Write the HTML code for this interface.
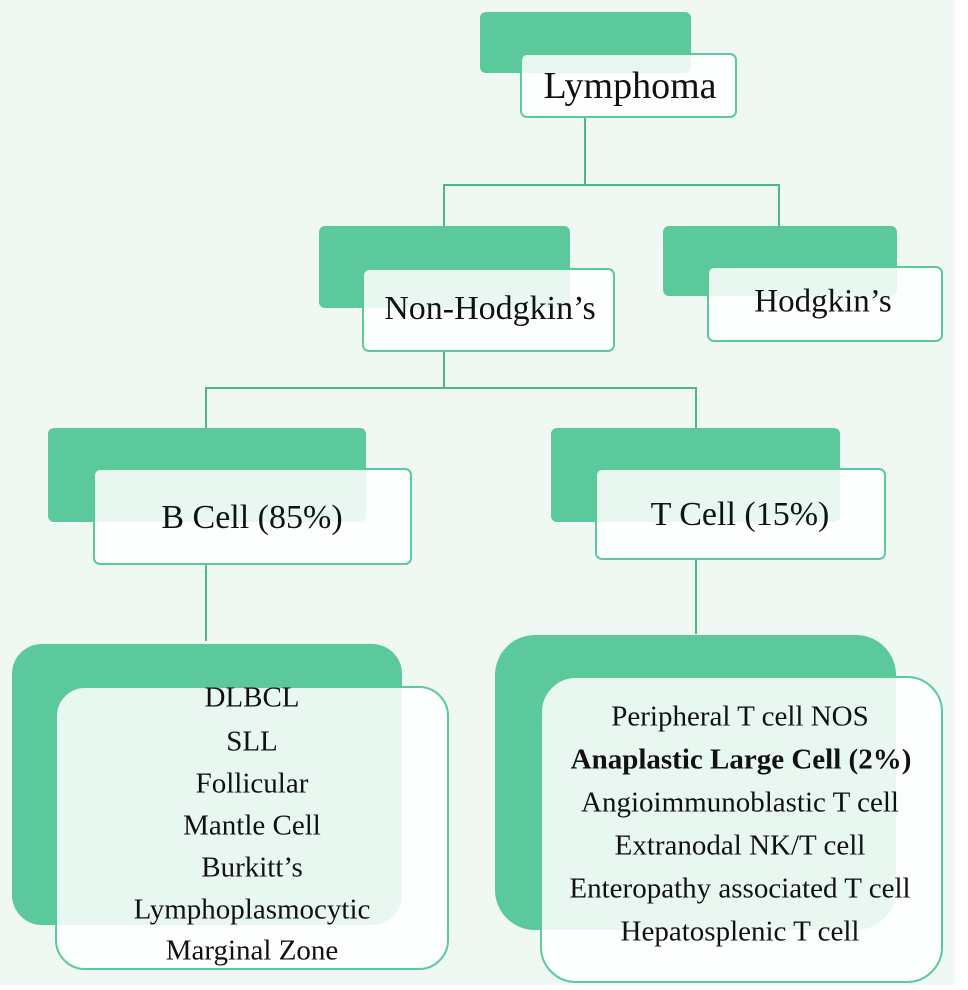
<!DOCTYPE html>
<html><head><style>
body{margin:0;width:968px;height:990px;background:#fff;position:relative;overflow:hidden;font-family:"Liberation Serif",serif;color:#111}
.bg{position:absolute;left:0;top:0;width:955px;height:985px;background:#f0f8f3}
.g{position:absolute;background:#5cc99c;border-radius:6px}
.f{position:absolute;background:rgba(255,255,255,0.86);border:2px solid #5cc99c;border-radius:7px;box-sizing:border-box}
.l{position:absolute;background:#4fb58b}
.t{position:absolute;text-align:center;white-space:nowrap;transform:translate(-50%,-50%)}
</style></head><body>
<div class="bg"></div>
<div class="l" style="left:584px;top:118px;width:2px;height:68px"></div>
<div class="l" style="left:443px;top:184px;width:337px;height:2px"></div>
<div class="l" style="left:443px;top:184px;width:2px;height:43px"></div>
<div class="l" style="left:778px;top:184px;width:2px;height:43px"></div>
<div class="l" style="left:443px;top:352px;width:2px;height:37px"></div>
<div class="l" style="left:205px;top:387px;width:492px;height:2px"></div>
<div class="l" style="left:205px;top:387px;width:2px;height:42px"></div>
<div class="l" style="left:695px;top:387px;width:2px;height:42px"></div>
<div class="l" style="left:205px;top:565px;width:2px;height:76px"></div>
<div class="l" style="left:695px;top:560px;width:2px;height:74px"></div>

<div class="g" style="left:480px;top:12px;width:211px;height:61px"></div>
<div class="f" style="left:520px;top:53px;width:217px;height:65px"></div>
<div class="t" style="left:630px;top:86px;font-size:38px">Lymphoma</div>

<div class="g" style="left:319px;top:226px;width:251px;height:82px"></div>
<div class="f" style="left:362px;top:268px;width:253px;height:84px"></div>
<div class="t" style="left:490px;top:309px;font-size:34px">Non-Hodgkin’s</div>

<div class="g" style="left:663px;top:226px;width:234px;height:70px"></div>
<div class="f" style="left:707px;top:266px;width:236px;height:76px"></div>
<div class="t" style="left:823px;top:302px;font-size:33px">Hodgkin’s</div>

<div class="g" style="left:48px;top:428px;width:318px;height:94px"></div>
<div class="f" style="left:93px;top:468px;width:319px;height:97px"></div>
<div class="t" style="left:252px;top:518px;font-size:34px">B Cell (85%)</div>

<div class="g" style="left:551px;top:428px;width:289px;height:94px"></div>
<div class="f" style="left:595px;top:468px;width:291px;height:92px"></div>
<div class="t" style="left:740px;top:515px;font-size:34px">T Cell (15%)</div>

<div class="g" style="left:12px;top:644px;width:390px;height:281px;border-radius:30px"></div>
<div class="f" style="left:55px;top:686px;width:394px;height:284px;border-radius:30px"></div>
<div style="position:absolute;left:0;top:0;font-size:29px">
<div class="t" style="left:252px;top:698px">DLBCL</div>
<div class="t" style="left:252px;top:742px">SLL</div>
<div class="t" style="left:252px;top:784px">Follicular</div>
<div class="t" style="left:252px;top:826px">Mantle Cell</div>
<div class="t" style="left:252px;top:868px">Burkitt’s</div>
<div class="t" style="left:252px;top:910px">Lymphoplasmocytic</div>
<div class="t" style="left:252px;top:951px">Marginal Zone</div>
</div>

<div class="g" style="left:495px;top:635px;width:401px;height:295px;border-radius:40px"></div>
<div class="f" style="left:540px;top:676px;width:403px;height:307px;border-radius:36px"></div>
<div style="position:absolute;left:0;top:0;font-size:29px">
<div class="t" style="left:740px;top:717px">Peripheral T cell NOS</div>
<div class="t" style="left:741px;top:760px;font-weight:bold">Anaplastic Large Cell (2%)</div>
<div class="t" style="left:740px;top:803px">Angioimmunoblastic T cell</div>
<div class="t" style="left:740px;top:846px">Extranodal NK/T cell</div>
<div class="t" style="left:740px;top:889px">Enteropathy associated T cell</div>
<div class="t" style="left:740px;top:932px">Hepatosplenic T cell</div>
</div>
</body></html>
